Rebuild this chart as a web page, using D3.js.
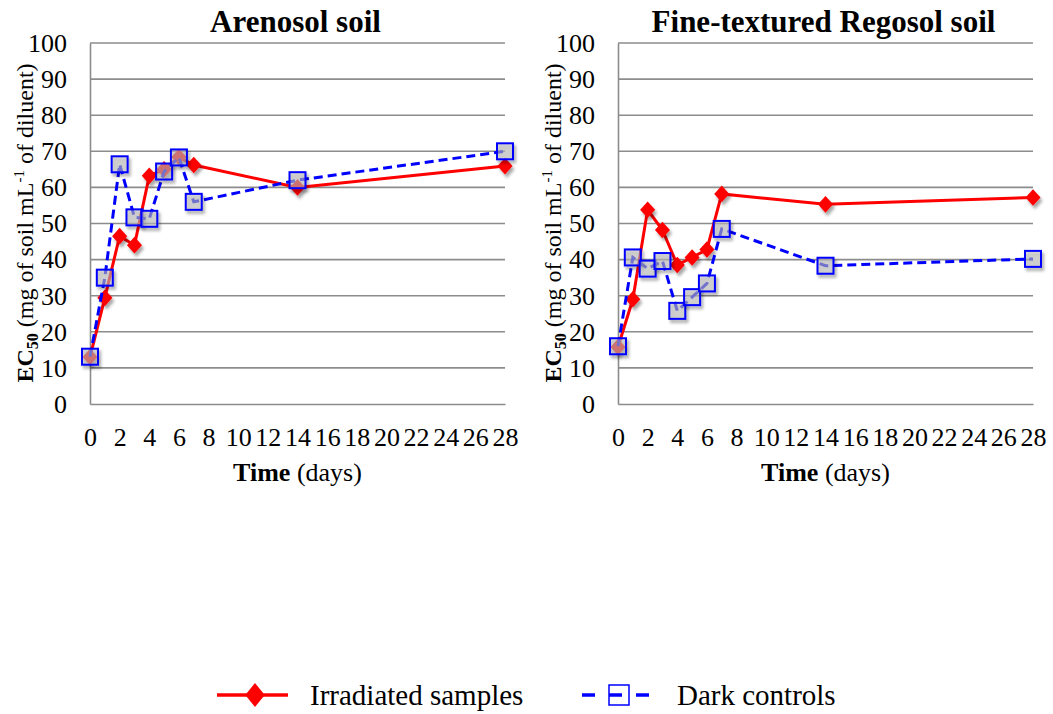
<!DOCTYPE html>
<html>
<head>
<meta charset="utf-8">
<script src="https://cdn.jsdelivr.net/npm/d3@7"></script>
</head>
<body style="margin:0;background:#fff">
<div id="graphic-wrapper"></div>
<script>
const days = [0, 1, 2, 3, 4, 5, 6, 7, 14, 28]
const xTicks = [0, 2, 4, 6, 8, 10, 12, 14, 16, 18, 20, 22, 24, 26, 28]
const yTicks = [0, 10, 20, 30, 40, 50, 60, 70, 80, 90, 100]
const panelTitles = ["Arenosol soil", "Fine-textured Regosol soil"]
const seriesNames = ["Irradiated samples", "Dark controls"]

// EC50 values
const arenosolIrradiated = [13, 29.4, 46.5, 44, 63.2, 65, 68.4, 66.2, 60, 65.9]
const arenosolDark = [13.1, 35, 66.4, 51.7, 51.3, 64.4, 68.3, 56, 62, 70]
const regosolIrradiated = [15.8, 29, 53.8, 48.2, 38.5, 40.6, 42.8, 58.2, 55.3, 57.2]
const regosolDark = [16, 40.6, 37.5, 39.6, 25.8, 29.6, 33.4, 48.5, 38.3, 40.2]

const WIDTH = 1053, HEIGHT = 714
const RED = "#ff0000", BLUE = "#0000ff", GRID = "#8c8c8c"
const FONT = "Liberation Serif"

const svg = d3.select("#graphic-wrapper")
	.append("svg")
		.attr("width", WIDTH)
		.attr("height", HEIGHT)
		.attr("font-family", FONT)

const defs = svg.append("defs")
defs.append("filter")
		.attr("id", "shadow")
		.attr("x", "-50%").attr("y", "-50%")
		.attr("width", "200%").attr("height", "200%")
	.append("feDropShadow")
		.attr("dx", 2).attr("dy", 3)
		.attr("stdDeviation", 1.6)
		.attr("flood-color", "#000")
		.attr("flood-opacity", 0.35)

const panels = [
	{ title: panelTitles[0], left: 90, irradiated: arenosolIrradiated, dark: arenosolDark, labelX: 33 },
	{ title: panelTitles[1], left: 618, irradiated: regosolIrradiated, dark: regosolDark, labelX: 561 },
]

const PLOT_TOP = 43, PLOT_BOTTOM = 404, PLOT_WIDTH = 415

const diamond = d3.symbol().type(d3.symbolDiamond2).size(145)

function drawPanel(p) {
	const x = d3.scaleLinear().domain([0, 28]).range([p.left, p.left + PLOT_WIDTH])
	const y = d3.scaleLinear().domain([0, 100]).range([PLOT_BOTTOM, PLOT_TOP])
	const g = svg.append("g")

	// horizontal grid
	g.selectAll(".grid")
		.data(yTicks.filter(d => d > 0))
		.join("line")
			.attr("x1", x(0)).attr("x2", x(28))
			.attr("y1", d => y(d)).attr("y2", d => y(d))
			.attr("stroke", GRID).attr("stroke-width", 1.6)

	// axes, no tick marks
	const yAxis = g.append("g")
		.attr("transform", `translate(${x(0)},0)`)
		.call(d3.axisLeft(y).tickValues(yTicks).tickSize(0).tickPadding(23))
	const xAxis = g.append("g")
		.attr("transform", `translate(0,${y(0)})`)
		.call(d3.axisBottom(x).tickValues(xTicks).tickSize(0).tickPadding(24))
	;[xAxis, yAxis].forEach(a => {
		a.attr("font-family", FONT).attr("font-size", 26)
		a.select(".domain").attr("stroke", GRID).attr("stroke-width", 1.6)
		a.selectAll("text").attr("fill", "#000")
	})

	// title
	g.append("text")
		.attr("x", x(14) - 2).attr("y", 32)
		.attr("text-anchor", "middle")
		.attr("font-size", 31).attr("font-weight", "bold")
		.text(p.title)

	// x label
	const xl = g.append("text")
		.attr("x", x(14)).attr("y", 481)
		.attr("text-anchor", "middle")
		.attr("font-size", 26)
	xl.append("tspan").attr("font-weight", "bold").text("Time")
	xl.append("tspan").text(" (days)")

	// y label
	const yl = g.append("text")
		.attr("transform", `translate(${p.labelX},223) rotate(-90)`)
		.attr("text-anchor", "middle")
		.attr("font-size", 24)
	yl.append("tspan").attr("font-weight", "bold").text("EC")
	yl.append("tspan").attr("font-weight", "bold").attr("font-size", 16).attr("dy", 5).text("50")
	yl.append("tspan").attr("dy", -5).text(" (mg of soil mL")
	yl.append("tspan").attr("font-size", 15).attr("dy", -9).text("-1")
	yl.append("tspan").attr("dy", 9).text(" of diluent)")

	const line = d3.line().x((d, i) => x(days[i])).y(d => y(d))

	// irradiated
	g.append("path")
		.datum(p.irradiated)
		.attr("d", line)
		.attr("fill", "none").attr("stroke", RED).attr("stroke-width", 3)
	g.selectAll(".dia")
		.data(p.irradiated)
		.join("path")
			.attr("d", diamond)
			.attr("transform", (d, i) => `translate(${x(days[i])},${y(d)}) scale(1,1.1)`)
			.attr("fill", RED)
			.attr("filter", "url(#shadow)")

	// dark controls
	g.append("path")
		.datum(p.dark)
		.attr("d", line)
		.attr("fill", "none").attr("stroke", BLUE).attr("stroke-width", 3)
		.attr("stroke-dasharray", "9,5")
	g.selectAll(".sq")
		.data(p.dark)
		.join("rect")
			.attr("x", (d, i) => x(days[i]) - 8)
			.attr("y", d => y(d) - 8)
			.attr("width", 16).attr("height", 16)
			.attr("fill", "rgba(190,190,190,0.55)")
			.attr("stroke", BLUE).attr("stroke-width", 2)
			.attr("filter", "url(#shadow)")
}

panels.forEach(drawPanel)

// legend
const legendY = 695
const lg = svg.append("g")
lg.append("line")
	.attr("x1", 217).attr("x2", 288).attr("y1", legendY).attr("y2", legendY)
	.attr("stroke", RED).attr("stroke-width", 3.5)
lg.append("path")
	.attr("d", d3.symbol().type(d3.symbolDiamond2).size(300))
	.attr("transform", `translate(255,${legendY}) scale(0.9,1.1)`)
	.attr("fill", RED)
lg.append("text")
	.attr("x", 310).attr("y", legendY + 10)
	.attr("font-size", 29)
	.text(seriesNames[0])
lg.append("line")
	.attr("x1", 582).attr("x2", 655).attr("y1", legendY).attr("y2", legendY)
	.attr("stroke", BLUE).attr("stroke-width", 3.5)
	.attr("stroke-dasharray", "13,14")
lg.append("rect")
	.attr("x", 609).attr("y", legendY - 10)
	.attr("width", 20).attr("height", 20)
	.attr("fill", "none")
	.attr("stroke", BLUE).attr("stroke-width", 1.5)
lg.append("text")
	.attr("x", 677).attr("y", legendY + 10)
	.attr("font-size", 29)
	.text(seriesNames[1])
</script>
</body>
</html>
